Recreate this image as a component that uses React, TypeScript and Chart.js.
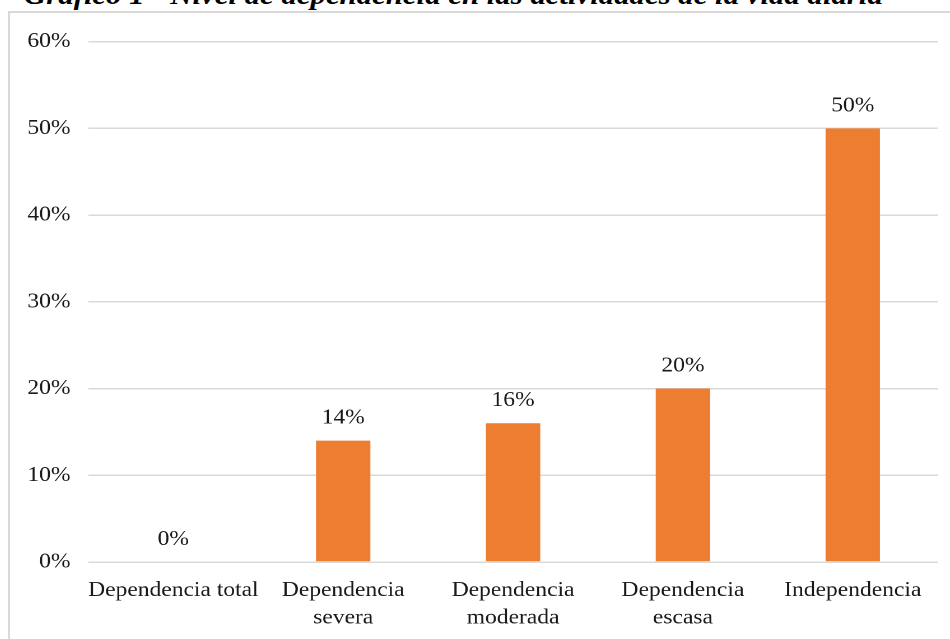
import React, { useEffect, useRef } from "react";
import { Chart, registerables } from "chart.js";

Chart.register(...registerables);

const titleText = "Gráfico 1 - Nivel de dependencia en las actividades de la vida diaria";
const categories: (string | string[])[] = [
  "Dependencia total",
  ["Dependencia", "severa"],
  ["Dependencia", "moderada"],
  ["Dependencia", "escasa"],
  "Independencia",
];
const values = [0, 14, 16, 20, 50];
const yTicks = [0, 10, 20, 30, 40, 50, 60];

const FONT = "'Liberation Serif', 'Times New Roman', serif";
const TEXT_COLOR = "#1a1a1a";
const STRETCH = 1.12;
const CSS_W = 940;
const CSS_H = 626;
const INNER_W = Math.round(CSS_W / STRETCH);

const dataLabels = {
  id: "dataLabels",
  afterDatasetsDraw(chart: any) {
    const ctx = chart.ctx;
    const meta = chart.getDatasetMeta(0);
    ctx.save();
    ctx.font = `21px ${FONT}`;
    ctx.fillStyle = TEXT_COLOR;
    ctx.textAlign = "center";
    ctx.textBaseline = "bottom";
    meta.data.forEach((bar: any, i: number) => {
      ctx.fillText(`${values[i]}%`, bar.x, bar.y - 12);
    });
    ctx.restore();
  },
};

export default function App() {
  const ref = useRef<HTMLCanvasElement>(null);
  useEffect(() => {
    if (!ref.current) return;
    const chart = new Chart(ref.current, {
      type: "bar",
      data: {
        labels: categories,
        datasets: [
          {
            data: values,
            backgroundColor: "#ED7D31",
            barPercentage: 0.32,
            categoryPercentage: 1,
          },
        ],
      },
      options: {
        animation: false,
        responsive: false,
        maintainAspectRatio: false,
        devicePixelRatio: 2,
        layout: { padding: { top: 27, right: 11, left: 0, bottom: 0 } },
        plugins: { legend: { display: false }, tooltip: { enabled: false }, title: { display: false } },
        scales: {
          x: {
            grid: { display: false, drawTicks: false },
            border: { display: false },
            ticks: {
              color: TEXT_COLOR,
              font: { family: FONT, size: 21, lineHeight: 1.3 },
              padding: 15,
              maxRotation: 0,
              autoSkip: false,
            },
            afterFit(scale: any) {
              scale.height = 77;
            },
          },
          y: {
            min: 0,
            max: 60,
            afterBuildTicks(scale: any) {
              scale.ticks = yTicks.map((v) => ({ value: v }));
            },
            grid: { color: "#d9d9d9", lineWidth: 1.5, drawTicks: false },
            border: { display: false },
            ticks: {
              color: TEXT_COLOR,
              font: { family: FONT, size: 21 },
              padding: 16,
              callback: (v: any) => `${v}%`,
            },
            afterFit(scale: any) {
              scale.width = 70;
            },
          },
        },
      },
      plugins: [dataLabels],
    });
    return () => chart.destroy();
  }, []);

  return (
    <div style={{ position: "absolute", left: 0, top: 0, width: 950, height: 639, overflow: "hidden", background: "#fff" }}>
      <div
        style={{
          position: "absolute",
          left: 24,
          top: -19,
          font: `bold italic 27.5px ${FONT}`,
          lineHeight: "28px",
          whiteSpace: "nowrap",
          color: "#000",
          transform: `scaleX(${STRETCH})`,
          transformOrigin: "left top",
        }}
      >
        {titleText}
      </div>
      <div
        style={{
          position: "absolute",
          left: 8,
          top: 11,
          width: 960,
          height: 640,
          borderLeft: "2px solid #d9d9d9",
          borderTop: "2px solid #d9d9d9",
        }}
      >
        <canvas ref={ref} width={INNER_W} height={CSS_H} style={{ display: "block", width: CSS_W, height: CSS_H }} />
      </div>
    </div>
  );
}
